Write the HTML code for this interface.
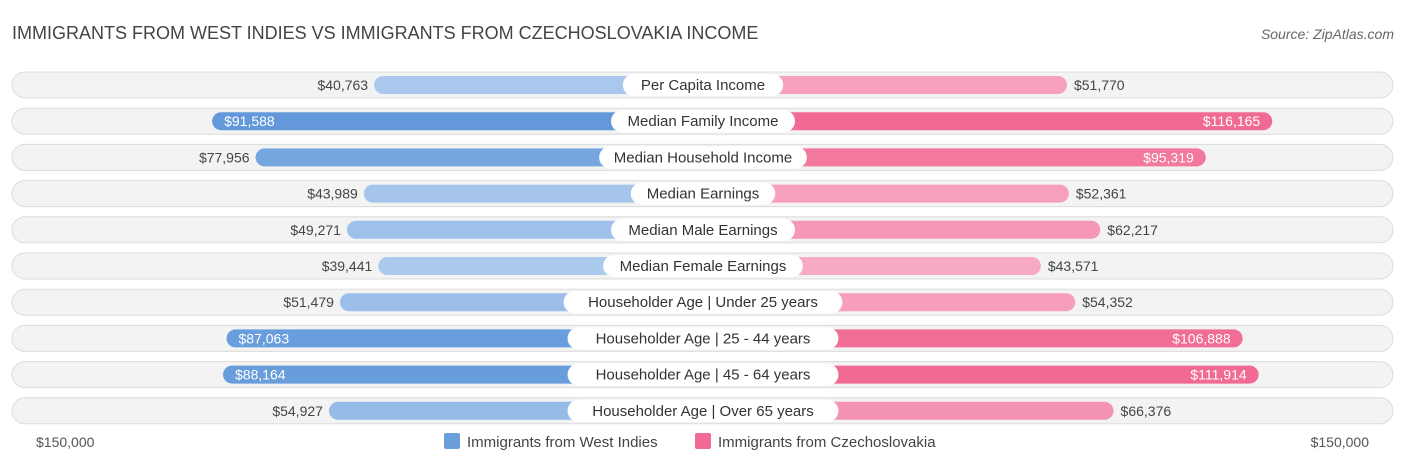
<!DOCTYPE html>
<html><head><meta charset="utf-8"><style>
body{margin:0;width:1406px;height:467px;background:#fff;font-family:"Liberation Sans",Arial,sans-serif;overflow:hidden}
svg{display:block}
</style></head><body>
<svg id="chart" width="1406" height="467" xmlns="http://www.w3.org/2000/svg">
<text x="12" y="39" font-size="18" fill="#444">IMMIGRANTS FROM WEST INDIES VS IMMIGRANTS FROM CZECHOSLOVAKIA INCOME</text>
<text x="1394" y="39" font-size="14" fill="#666" text-anchor="end" font-style="italic">Source: ZipAtlas.com</text>
<g id="rows"></g>
<text x="36" y="447" font-size="14" fill="#555">$150,000</text>
<text x="1369" y="447" font-size="14" fill="#555" text-anchor="end">$150,000</text>
<g>
<rect x="444" y="433" width="16" height="16" rx="2" fill="#6a9fdc"/>
<text x="467" y="447" font-size="15" fill="#444">Immigrants from West Indies</text>
<rect x="695" y="433" width="16" height="16" rx="2" fill="#f06b94"/>
<text x="718" y="447" font-size="15" fill="#444">Immigrants from Czechoslovakia</text>
</g>
</svg>
<script>
const categories=["Per Capita Income","Median Family Income","Median Household Income","Median Earnings","Median Male Earnings","Median Female Earnings","Householder Age | Under 25 years","Householder Age | 25 - 44 years","Householder Age | 45 - 64 years","Householder Age | Over 65 years"];
const westIndies=[40763,91588,77956,43989,49271,39441,51479,87063,88164,54927];
const czechoslovakia=[51770,116165,95319,52361,62217,43571,54352,106888,111914,66376];
const NS="http://www.w3.org/2000/svg";
const cx=703, base=199, k=3.187/1000;
function len(v){return base+v*k;}
function rowY(i){return 85+i*36.2;}
function mix(a,b,t){t=Math.max(0,Math.min(1,t));const p=s=>[1,3,5].map(j=>parseInt(s.substr(j,2),16));const A=p(a),B=p(b);return"rgb("+A.map((x,j)=>Math.round(x+(B[j]-x)*t)).join(",")+")";}
function colL(v){return mix("#aecbee","#6299da",(v-38000)/(92000-38000));}
function colR(v){return mix("#f8aac4","#f06a94",(v-42000)/(110000-42000));}
function fmt(v){return"$"+v.toLocaleString("en-US");}
const g=document.getElementById("rows");
function mk(tag,attrs){const e=document.createElementNS(NS,tag);for(const a in attrs)e.setAttribute(a,attrs[a]);g.appendChild(e);return e;}
categories.forEach((c,i)=>{
const y=rowY(i);
const bg=mk("rect",{x:12,y:y-13,width:1381,height:26,rx:13,fill:"#f3f3f3",stroke:"#dcdcdc","stroke-width":1});


const lv=westIndies[i], rv=czechoslovakia[i];
const lw=len(lv), rw=len(rv);
const lb=mk("rect",{x:cx-lw,y:y-9,width:lw,height:18,rx:9,fill:colL(lv)});


const rb=mk("rect",{x:cx,y:y-9,width:rw,height:18,rx:9,fill:colR(rv)});


const tw=c.length*7.9+26;
const pill=mk("rect",{x:cx-tw/2,y:y-11,width:tw,height:22,rx:11,fill:"#fff"});


const ct=mk("text",{x:cx,y:y+5,"font-size":15,fill:"#333","text-anchor":"middle"});
ct.textContent=c;


const lin=lv>80000;
const lt=mk("text",{x:lin?cx-lw+12:cx-lw-6,y:y+5,"font-size":14,fill:lin?"#fff":"#444","text-anchor":lin?"start":"end"});
lt.textContent=fmt(lv);


const rin=rv>80000;
const rt=mk("text",{x:rin?cx+rw-12:cx+rw+7,y:y+5,"font-size":14,fill:rin?"#fff":"#444","text-anchor":rin?"end":"start"});
rt.textContent=fmt(rv);


});
</script>
</body></html>
